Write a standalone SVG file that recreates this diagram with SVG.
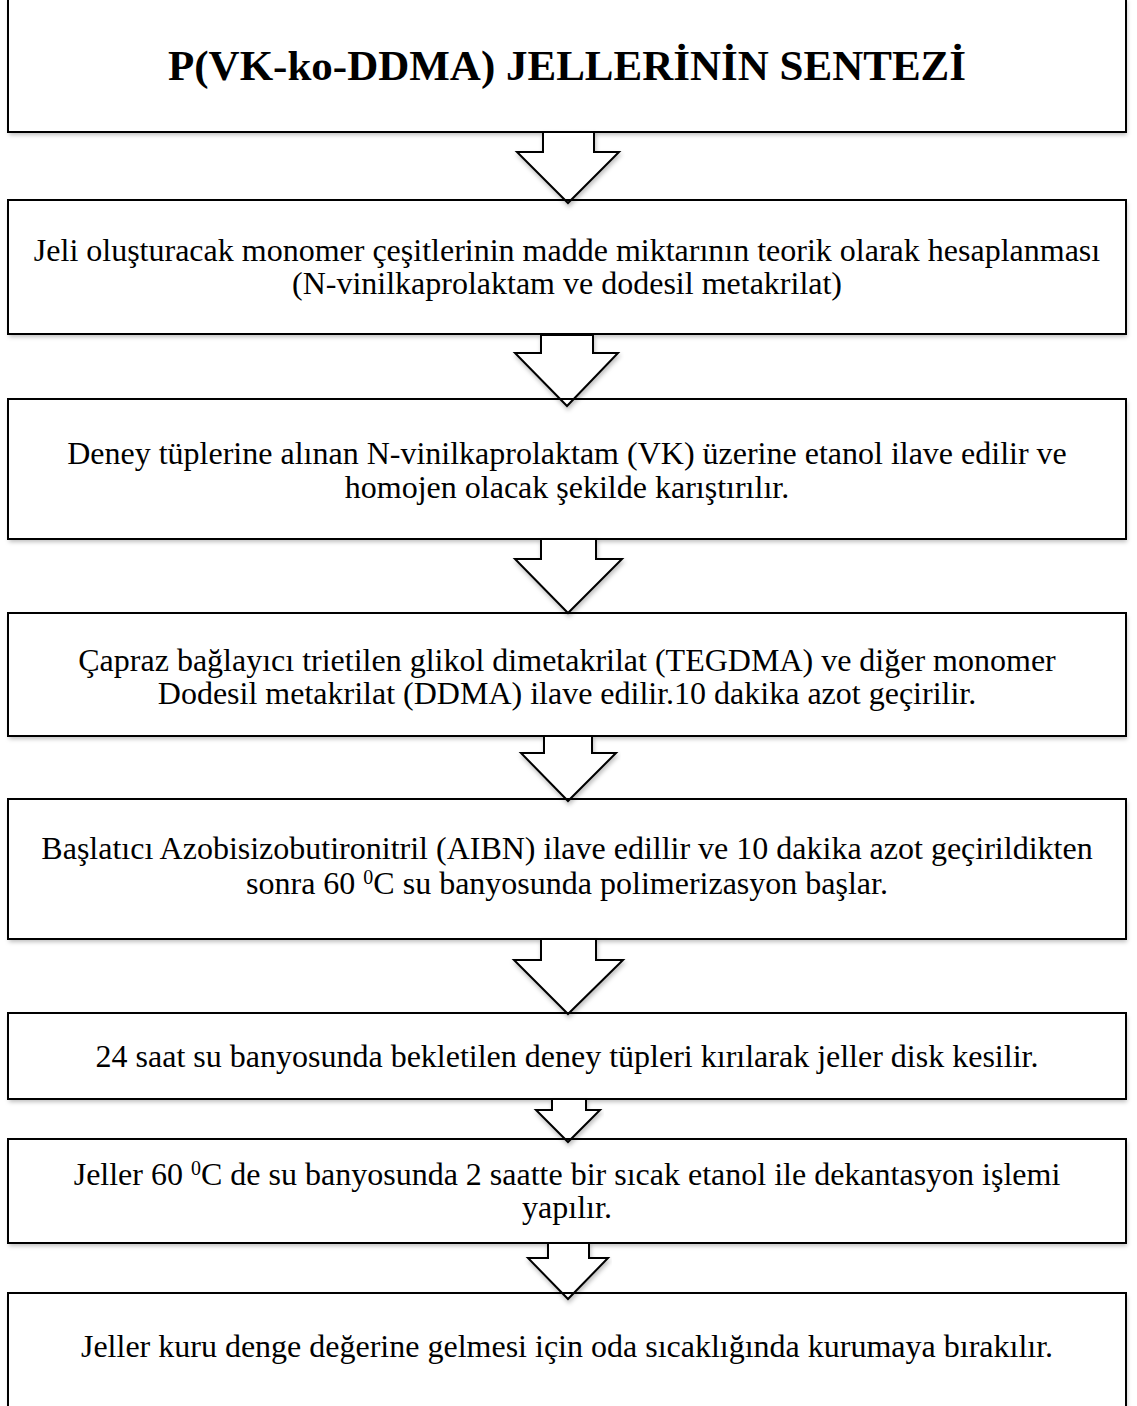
<svg xmlns="http://www.w3.org/2000/svg" width="1137" height="1406" viewBox="0 0 1137 1406">
<defs>
<filter id="sh" x="-5%" y="-5%" width="110%" height="120%">
<feDropShadow dx="1" dy="3" stdDeviation="2" flood-color="#000" flood-opacity="0.25"/>
</filter>
<style>
.box{fill:none;stroke:#000;stroke-width:2}
.bg{fill:#fff;filter:url(#sh)}
.arr{fill:#fff;stroke:#000;stroke-width:2;stroke-linejoin:miter;filter:url(#sh)}
.t{font-family:"Liberation Serif","Times New Roman",serif;font-size:32px;fill:#000;text-anchor:middle}
.title{font-family:"Liberation Serif","Times New Roman",serif;font-size:43px;font-weight:bold;fill:#000;text-anchor:middle}
.sup{font-size:20px}
</style>
</defs>
<rect x="0" y="0" width="1137" height="1406" fill="#fff"/>
<g id="backgrounds">
<rect class="bg" x="8" y="-2" width="1118" height="134"/>
<rect class="bg" x="8" y="200" width="1118" height="134"/>
<rect class="bg" x="8" y="399" width="1118" height="140"/>
<rect class="bg" x="8" y="613" width="1118" height="123"/>
<rect class="bg" x="8" y="799" width="1118" height="140"/>
<rect class="bg" x="8" y="1013" width="1118" height="86"/>
<rect class="bg" x="8" y="1139" width="1118" height="104"/>
<rect class="bg" x="8" y="1293" width="1118" height="120"/>
</g>
<g id="connectors">
<polygon class="arr" points="543,132 594,132 594,152 619,152 568,203 517,152 543,152"/>
<polygon class="arr" points="541,335 593,335 593,353 618,353 567,406 515,353 541,353"/>
<polygon class="arr" points="541,539 596,539 596,559 622,559 568,613 515,559 541,559"/>
<polygon class="arr" points="544,736 592,736 592,753 616,753 568,801 521,753 544,753"/>
<polygon class="arr" points="541,939 596,939 596,960 623,960 568,1014 514,960 541,960"/>
<polygon class="arr" points="552,1099 586,1099 586,1110 600,1110 568,1142 536,1110 552,1110"/>
<polygon class="arr" points="548,1243 589,1243 589,1258 608,1258 568,1299 528,1258 548,1258"/>
</g>
<g id="n1"><rect class="box" x="8" y="-2" width="1118" height="134"/>
<text class="title" x="567" y="80">P(VK-ko-DDMA) JELLERİNİN SENTEZİ</text></g>
<g id="n2"><rect class="box" x="8" y="200" width="1118" height="134"/>
<text class="t" x="567" y="261">Jeli oluşturacak monomer çeşitlerinin madde miktarının teorik olarak hesaplanması</text>
<text class="t" x="567" y="294">(N-vinilkaprolaktam ve dodesil metakrilat)</text></g>
<g id="n3"><rect class="box" x="8" y="399" width="1118" height="140"/>
<text class="t" x="567" y="464">Deney tüplerine alınan N-vinilkaprolaktam (VK) üzerine etanol ilave edilir ve</text>
<text class="t" x="567" y="498">homojen olacak şekilde karıştırılır.</text></g>
<g id="n4"><rect class="box" x="8" y="613" width="1118" height="123"/>
<text class="t" x="567" y="671">Çapraz bağlayıcı trietilen glikol dimetakrilat (TEGDMA) ve diğer monomer</text>
<text class="t" x="567" y="704">Dodesil metakrilat (DDMA) ilave edilir.10 dakika azot geçirilir.</text></g>
<g id="n5"><rect class="box" x="8" y="799" width="1118" height="140"/>
<text class="t" x="567" y="859">Başlatıcı Azobisizobutironitril (AIBN) ilave edillir ve 10 dakika azot geçirildikten</text>
<text class="t" x="567" y="894">sonra 60 <tspan class="sup" dy="-10">0</tspan><tspan dy="10">C su banyosunda polimerizasyon başlar.</tspan></text></g>
<g id="n6"><rect class="box" x="8" y="1013" width="1118" height="86"/>
<text class="t" x="567" y="1067">24 saat su banyosunda bekletilen deney tüpleri kırılarak jeller disk kesilir.</text></g>
<g id="n7"><rect class="box" x="8" y="1139" width="1118" height="104"/>
<text class="t" x="567" y="1185">Jeller 60 <tspan class="sup" dy="-10">0</tspan><tspan dy="10">C de su banyosunda 2 saatte bir sıcak etanol ile dekantasyon işlemi</tspan></text>
<text class="t" x="567" y="1218">yapılır.</text></g>
<g id="n8"><rect class="box" x="8" y="1293" width="1118" height="120"/>
<text class="t" x="567" y="1357">Jeller kuru denge değerine gelmesi için oda sıcaklığında kurumaya bırakılır.</text></g>
</svg>
